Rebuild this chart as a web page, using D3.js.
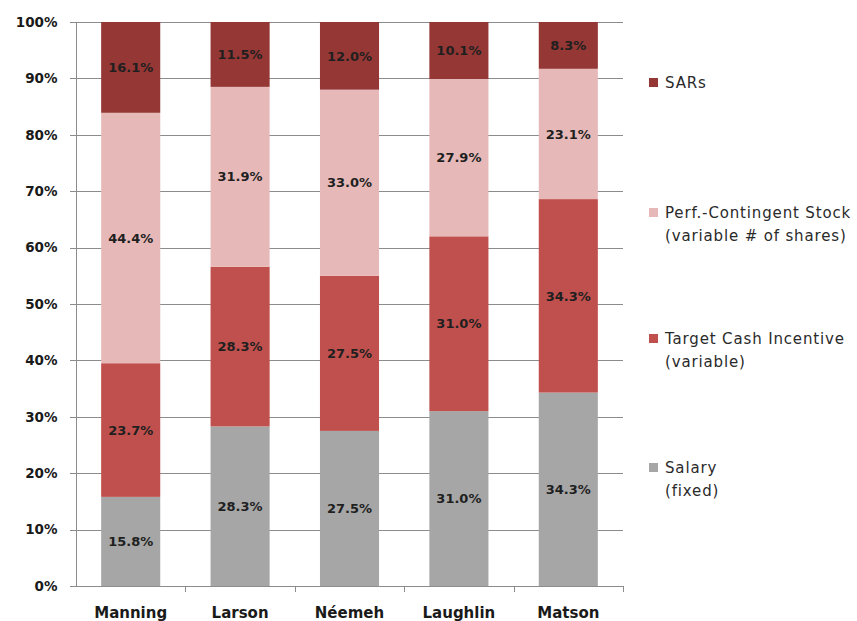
<!DOCTYPE html>
<html>
<head>
<meta charset="utf-8">
<script src="https://cdn.jsdelivr.net/npm/d3@7"></script>
<style>
  body { margin: 0; background: #fff; }
  svg { display: block; }
</style>
</head>
<body>
<svg width="857" height="621"></svg>
<script>
// chart values
var names = ["Manning", "Larson", "Néemeh", "Laughlin", "Matson"];
var salary = [15.8, 28.3, 27.5, 31.0, 34.3];
var cash = [23.7, 28.3, 27.5, 31.0, 34.3];
var stock = [44.4, 31.9, 33.0, 27.9, 23.1];
var sars = [16.1, 11.5, 12.0, 10.1, 8.3];
var seriesKeys = ["salary", "cash", "stock", "sars"];
var legendLines = [
  ["Salary", "(fixed)"],
  ["Target Cash Incentive", "(variable)"],
  ["Perf.-Contingent Stock", "(variable # of shares)"],
  ["SARs"]
];
var yTicks = [0, 10, 20, 30, 40, 50, 60, 70, 80, 90, 100];

var colors = {salary: "#a6a6a6", cash: "#c0504d", stock: "#e6b9b8", sars: "#953735"};

var rows = names.map(function(n, i) {
  return {name: n, salary: salary[i], cash: cash[i], stock: stock[i], sars: sars[i]};
});

var svg = d3.select("svg");
var plotLeft = 76, plotRight = 623, plotTop = 22, plotBottom = 586;

var x = d3.scaleBand().domain(names).range([plotLeft, plotRight]).paddingInner(0.46).paddingOuter(0.23);
var y = d3.scaleLinear().domain([0, 100]).range([plotBottom, plotTop]);

// gridlines
svg.append("g")
  .selectAll("line")
  .data(yTicks)
  .enter().append("line")
  .attr("x1", plotLeft - 6)
  .attr("x2", plotRight)
  .attr("y1", function(d) { return Math.round(y(d)) + 0.5; })
  .attr("y2", function(d) { return Math.round(y(d)) + 0.5; })
  .attr("stroke", "#8c8c8c")
  .attr("stroke-width", 1);

var stack = d3.stack().keys(seriesKeys);
var layers = stack(rows);

var g = svg.append("g");
var layer = g.selectAll("g.layer")
  .data(layers)
  .enter().append("g")
  .attr("class", "layer")
  .attr("fill", function(d) { return colors[d.key]; });

layer.selectAll("rect")
  .data(function(d) { return d; })
  .enter().append("rect")
  .attr("x", function(d) { return x(d.data.name); })
  .attr("width", x.bandwidth())
  .attr("y", function(d) { return y(d[1]); })
  .attr("height", function(d) { return y(d[0]) - y(d[1]); });

// value labels
layer.selectAll("text")
  .data(function(d) { return d; })
  .enter().append("text")
  .attr("x", function(d) { return x(d.data.name) + x.bandwidth() / 2; })
  .attr("y", function(d) { return (y(d[0]) + y(d[1])) / 2; })
  .attr("dy", "0.36em")
  .attr("text-anchor", "middle")
  .attr("fill", "#1f1f1f")
  .style("font", "bold 13px 'DejaVu Sans'")
  .text(function(d) { return (d[1] - d[0]).toFixed(1) + "%"; });

// y axis
var yAxis = d3.axisLeft(y).tickValues(yTicks).tickSize(6).tickFormat(function(d) { return d + "%"; });
var ya = svg.append("g").attr("transform", "translate(" + (plotLeft + 0.5) + ",0)").call(yAxis);
ya.select(".domain").attr("stroke", "#8c8c8c").attr("d", "M0," + plotTop + "V" + plotBottom);
ya.selectAll(".tick line").remove();
ya.selectAll("text")
  .attr("x", -19)
  .attr("fill", "#1a1a1a")
  .style("font", "bold 13.5px 'DejaVu Sans'");

// x axis
var xAxis = d3.axisBottom(x).tickSize(0);
var xa = svg.append("g").attr("transform", "translate(0," + (plotBottom + 0.5) + ")").call(xAxis);
xa.select(".domain").attr("stroke", "#8c8c8c").attr("d", "M" + plotLeft + ",0H" + plotRight);
xa.selectAll("text")
  .attr("y", 21)
  .attr("dy", "0.71em")
  .attr("fill", "#1a1a1a")
  .style("font", "bold 15px 'DejaVu Sans'");

// category separators
svg.append("g")
  .selectAll("line")
  .data(d3.range(1, names.length + 1))
  .enter().append("line")
  .attr("x1", function(i) { return Math.round(plotLeft + (plotRight - plotLeft) / names.length * i) + 0.5; })
  .attr("x2", function(i) { return Math.round(plotLeft + (plotRight - plotLeft) / names.length * i) + 0.5; })
  .attr("y1", plotBottom)
  .attr("y2", plotBottom + 6)
  .attr("stroke", "#8c8c8c");

// legend (top to bottom: SARs first)
var legendY = [83, 213, 339, 468];
var legendOrder = [3, 2, 1, 0];
var lg = svg.append("g").selectAll("g")
  .data(legendOrder)
  .enter().append("g")
  .attr("transform", function(k, i) { return "translate(649," + legendY[i] + ")"; });

lg.append("rect")
  .attr("y", -5)
  .attr("width", 9)
  .attr("height", 9)
  .attr("fill", function(k) { return colors[seriesKeys[k]]; });

lg.each(function(k) {
  var t = d3.select(this).append("text")
    .attr("x", 16)
    .attr("fill", "#2a2a2a")
    .style("font", "15px 'DejaVu Sans'")
    .style("letter-spacing", "0.85px");
  legendLines[k].forEach(function(line, j) {
    t.append("tspan").attr("x", 16).attr("y", j * 23).attr("dy", "0.36em").text(line);
  });
});
</script>
</body>
</html>
